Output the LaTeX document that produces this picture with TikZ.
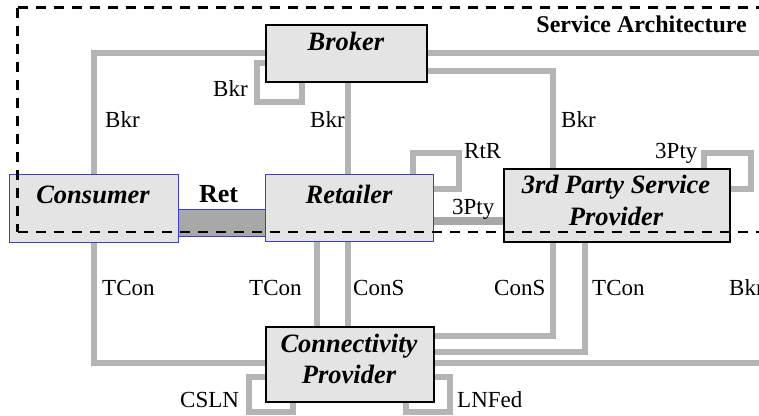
\documentclass[tikz,border=0pt]{standalone}
\usepackage{fontspec}
\setmainfont{Liberation Serif}
\definecolor{linkgray}{RGB}{180,180,180}
\definecolor{darklink}{RGB}{168,168,168}
\definecolor{boxfill}{RGB}{228,228,228}
\definecolor{boxblue}{RGB}{60,60,210}
\pgfdeclarelayer{background}
\pgfsetlayers{background,main}
\tikzset{
  link/.style={draw=linkgray, line width=5.5pt},
  thicklink/.style={draw=darklink, line width=8pt},
  entity/.style={rectangle, draw=black, line width=1.5pt, fill=boxfill, inner sep=0pt, anchor=north west},
  blueentity/.style={entity, draw=boxblue, line width=1.1pt},
  lbl/.style={font=\fontsize{23}{27}\selectfont, inner sep=0pt, anchor=base west},
  boxlbl/.style={font=\fontsize{26.5}{32}\selectfont\bfseries\itshape, inner sep=0pt, anchor=base},
  boldlbl/.style={font=\fontsize{26}{30}\selectfont\bfseries, inner sep=0pt, anchor=base},
  boundary/.style={draw=black, line width=2.3pt, dash pattern=on 10pt off 8pt}
}
\begin{document}
\begin{tikzpicture}[x=1pt,y=-1pt]
\path[use as bounding box] (0,0) rectangle (759,415);
\clip (0,0) rectangle (759,415);

% entity boxes
\node[entity, minimum width=161pt, minimum height=57pt] (broker) at (265,24) {};
\node[blueentity, minimum width=169pt, minimum height=68pt] (consumer) at (9,174) {};
\node[blueentity, minimum width=168pt, minimum height=67pt] (retailer) at (265,174) {};
\node[entity, minimum width=226pt, minimum height=73pt] (tp) at (503,168) {};
\node[entity, minimum width=168pt, minimum height=75pt] (conn) at (265,326) {};
\node[blueentity, fill=darklink, minimum width=87pt, minimum height=27pt] (ret) at (178,209) {};

% connectors (behind the boxes)
\begin{pgfonlayer}{background}
\draw[link] (broker.west |- 0,53) -| (consumer.north -| 94,0);
\draw[link] (broker.west |- 0,63) -- (257,63) -- (257,102) -- (302,102) -- (broker.south -| 302,0);
\draw[link] (broker.south -| 348,0) -- (retailer.north -| 348,0);
\draw[link] (broker.east |- 0,53) -- (780,53) -- (780,363) -- (conn.east |- 0,363);
\draw[link] (broker.east |- 0,71) -| (tp.north -| 553,0);
\draw[link] (retailer.north -| 413,0) -- (413,153) -- (459,153) -- (459,189) -- (retailer.east |- 0,189);
\draw[link] (tp.north -| 704,0) -- (704,153) -- (751,153) -- (751,189) -- (tp.east |- 0,189);
\draw[thicklink] (retailer.east |- 0,221) -- (tp.west |- 0,221);
\draw[link] (consumer.south -| 94,0) |- (conn.west |- 0,363);
\draw[link] (retailer.south -| 317,0) -- (conn.north -| 317,0);
\draw[link] (retailer.south -| 348,0) -- (conn.north -| 348,0);
\draw[link] (tp.south -| 553,0) |- (conn.east |- 0,336);
\draw[link] (tp.south -| 585,0) |- (conn.east |- 0,352);
\draw[link] (conn.west |- 0,377) -- (249,377) -- (249,412) -- (293,412) -- (conn.south -| 293,0);
\draw[link] (conn.south -| 406,0) -- (406,412) -- (450,412) -- (450,377) -- (conn.east |- 0,377);
\end{pgfonlayer}

% box labels
\node[boxlbl] (brokerT) at (346,50) {Broker};
\node[boxlbl] (consumerT) at (93,203) {Consumer};
\node[boxlbl] (retailerT) at (349,203) {Retailer};
\node[boxlbl] (tpT1) at (616,193) {3rd Party Service};
\node[boxlbl] (tpT2) at (616,225) {Provider};
\node[boxlbl] (connT1) at (349,352) {Connectivity};
\node[boxlbl] (connT2) at (349,383) {Provider};
\node[boldlbl] (retT) at (218.5,202) {Ret};
\node[font=\fontsize{24}{28}\selectfont\bfseries, inner sep=0pt, anchor=base east] (saT) at (747,32) {Service Architecture};

% connector labels
\node[lbl] (l1) at (105,127) {Bkr};
\node[lbl] (l2) at (213,96) {Bkr};
\node[lbl] (l3) at (310,127) {Bkr};
\node[lbl] (l4) at (561,127) {Bkr};
\node[lbl] (l5) at (464,158) {RtR};
\node[lbl] (l6) at (655,158) {3Pty};
\node[lbl] (l7) at (452,214) {3Pty};
\node[lbl] (l8) at (102,295) {TCon};
\node[lbl] (l9) at (249,295) {TCon};
\node[lbl] (l10) at (353,295) {ConS};
\node[lbl] (l11) at (494,295) {ConS};
\node[lbl] (l12) at (592,295) {TCon};
\node[lbl] (l13) at (729,295) {Bkr};
\node[lbl] (l14) at (180,407) {CSLN};
\node[lbl] (l15) at (457,407) {LNFed};

% service architecture boundary
\draw[boundary] (17.5,7.5) -- (800,7.5);
\draw[boundary] (17.5,7.5) -- (17.5,232);
\draw[boundary] (17.5,232) -- (800,232);
\end{tikzpicture}
\end{document}
